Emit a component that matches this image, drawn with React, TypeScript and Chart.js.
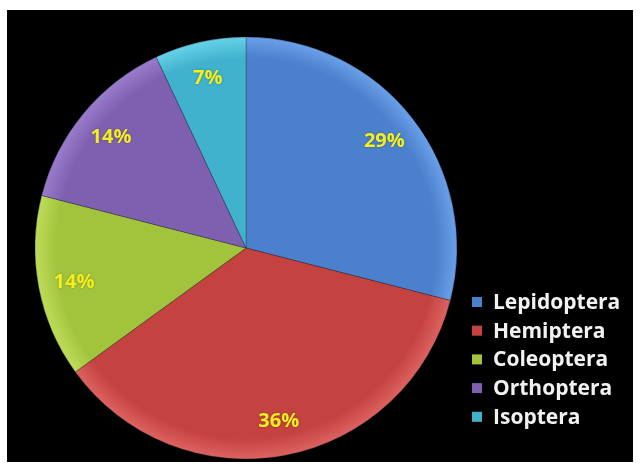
import React, { useEffect, useRef } from "react";
import { Chart, registerables } from "chart.js";

Chart.register(...registerables);

const categories = ["Lepidoptera", "Hemiptera", "Coleoptera", "Orthoptera", "Isoptera"];
const values = [29, 36, 14, 14, 7];
const percentLabels = ["29%", "36%", "14%", "14%", "7%"];
const sliceColors = ["#4a80cc", "#c4423f", "#a2c43c", "#7f5fb0", "#40b2cc"];
const rimColors = ["#6aa0e8", "#dc6260", "#bedc5a", "#9a7ccc", "#66d2e8"];

const labelPlugin = {
  id: "pctLabels",
  afterDatasetsDraw(chart: any) {
    const ctx = chart.ctx;
    const meta = chart.getDatasetMeta(0);
    ctx.save();
    ctx.font = "bold 20px 'Open Sans', sans-serif";
    ctx.fillStyle = "#f4f020";
    ctx.textAlign = "center";
    ctx.textBaseline = "middle";
    ctx.shadowColor = "rgba(0,0,0,0.35)";
    ctx.shadowBlur = 2;
    meta.data.forEach((arc: any, i: number) => {
      const p = arc.getProps(["x", "y", "startAngle", "endAngle", "outerRadius"], true);
      const mid = (p.startAngle + p.endAngle) / 2;
      const r = p.outerRadius * 0.83;
      ctx.fillText(percentLabels[i], p.x + Math.cos(mid) * r, p.y + Math.sin(mid) * r + 1);
    });
    ctx.restore();
  },
};

const legendPlugin = {
  id: "customLegend",
  afterDraw(chart: any) {
    const ctx = chart.ctx;
    ctx.save();
    ctx.font = "bold 21px 'Open Sans', sans-serif";
    ctx.textBaseline = "middle";
    ctx.textAlign = "left";
    const x0 = 465;
    const y0 = 292;
    const step = 28.7;
    categories.forEach((name, i) => {
      const y = y0 + i * step;
      ctx.fillStyle = sliceColors[i];
      ctx.fillRect(x0, y - 5, 10, 10);
      ctx.fillStyle = "#f2f2f2";
      ctx.fillText(name, x0 + 21, y + 1);
    });
    ctx.restore();
  },
};

export default function App() {
  const canvasRef = useRef<HTMLCanvasElement | null>(null);

  useEffect(() => {
    if (!canvasRef.current) return;
    const chart = new Chart(canvasRef.current, {
      type: "pie",
      data: {
        labels: categories,
        datasets: [
          {
            data: values,
            backgroundColor: (c: any) => {
              const chartObj = c.chart;
              const area = chartObj.chartArea;
              const i = c.dataIndex;
              if (!area || i === undefined) return sliceColors[i ?? 0];
              const cx = (area.left + area.right) / 2;
              const cy = (area.top + area.bottom) / 2;
              const g = chartObj.ctx.createRadialGradient(cx, cy, 0, cx, cy, 211);
              g.addColorStop(0, sliceColors[i]);
              g.addColorStop(0.9, sliceColors[i]);
              g.addColorStop(1, rimColors[i]);
              return g;
            },
            borderColor: "rgba(20,30,50,0.3)",
            borderWidth: 1,
            radius: 211,
          } as any,
        ],
      },
      options: {
        responsive: false,
        animation: false,
        maintainAspectRatio: false,
        layout: { padding: { left: 0, right: 148, top: 24, bottom: 0 } },
        plugins: {
          legend: { display: false },
          tooltip: { enabled: false },
        },
      },
      plugins: [labelPlugin, legendPlugin],
    });
    return () => chart.destroy();
  }, []);

  return (
    <div style={{ position: "fixed", left: 0, top: 0, width: 643, height: 467, background: "#ffffff" }}>
      <canvas
        ref={canvasRef}
        width={626}
        height={452}
        style={{ position: "absolute", left: 7, top: 10, width: 626, height: 452, background: "#000000" }}
      />
    </div>
  );
}
